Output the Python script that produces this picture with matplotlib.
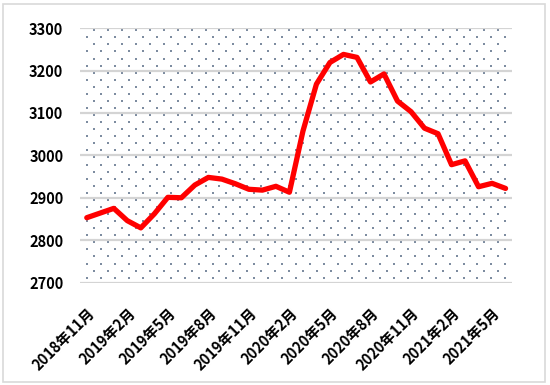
import numpy as np
import matplotlib
matplotlib.use("Agg")
import matplotlib.pyplot as plt
from matplotlib.patches import Rectangle

plt.rcParams['font.family'] = ['Noto Sans CJK SC', 'DejaVu Sans']

# monthly series, 2018-11 .. 2021-06
months = ['2018年11月', '2018年12月', '2019年1月', '2019年2月', '2019年3月', '2019年4月',
          '2019年5月', '2019年6月', '2019年7月', '2019年8月', '2019年9月', '2019年10月',
          '2019年11月', '2019年12月', '2020年1月', '2020年2月', '2020年3月', '2020年4月',
          '2020年5月', '2020年6月', '2020年7月', '2020年8月', '2020年9月', '2020年10月',
          '2020年11月', '2020年12月', '2021年1月', '2021年2月', '2021年3月', '2021年4月',
          '2021年5月', '2021年6月']
values = [2853, 2864, 2875, 2846, 2829, 2862, 2901, 2900, 2930, 2948, 2944, 2933,
          2920, 2918, 2927, 2913, 3057, 3168, 3219, 3238, 3231, 3173, 3192, 3128,
          3103, 3064, 3051, 2978, 2987, 2926, 2934, 2922]
yticks = [2700, 2800, 2900, 3000, 3100, 3200, 3300]

fig = plt.figure(figsize=(5.5, 3.85), dpi=100)
ax = fig.add_axes([0.1455, 0.266, 0.786, 0.661])

x = np.arange(len(values))
ax.set_xlim(-0.5, len(values) - 0.5)
ax.set_ylim(2700, 3300)

# dotted background texture (staggered grid of small dots)
cols = np.arange(0.5, 31, 1.0) / 31
rows = np.arange(0.7, 36, 1.0) / 36
for k, r in enumerate(rows):
    cx = cols + (0.5 / 31 if k % 2 else 0.0)
    cx = cx[cx < 1.0]
    ax.scatter(cx, np.full_like(cx, r), s=0.9, marker='s', color='#7d8ca0',
               linewidths=0, transform=ax.transAxes, zorder=1, clip_on=True)

for t in yticks:
    ax.axhline(t, color='#d4d4d4', lw=1.6, zorder=2)

ax.plot(x, values, color='#ff0000', lw=3.8, solid_joinstyle='round',
        solid_capstyle='round', zorder=3)

ax.set_yticks(yticks)
ax.set_yticklabels([str(t) for t in yticks], fontsize=10.5, fontweight='bold')
ax.set_xticks(x[::3])
ax.set_xticklabels(months[::3], rotation=45, ha='right', rotation_mode='anchor',
                   fontsize=10.5, fontweight='bold')
ax.tick_params(axis='both', length=0)
ax.tick_params(axis='y', pad=12)
ax.tick_params(axis='x', pad=16)
for s in ax.spines.values():
    s.set_visible(False)

fig.patches.append(Rectangle((0.006, 0.008), 0.985, 0.982, transform=fig.transFigure,
                             fill=False, edgecolor='#d9d9d9', lw=1.2))

fig.savefig('out.png', dpi=100)
